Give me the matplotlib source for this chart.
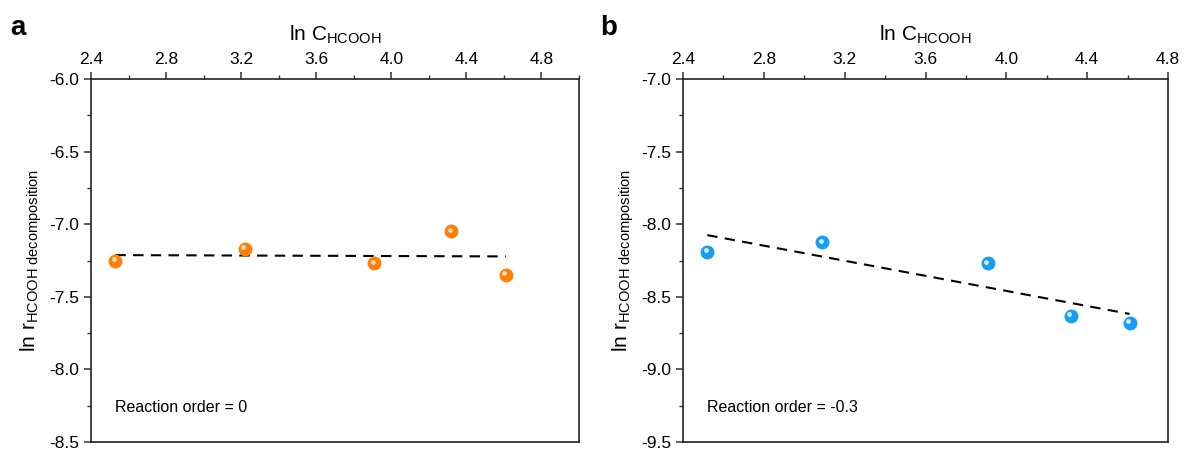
import matplotlib.pyplot as plt
import numpy as np
from matplotlib.ticker import MultipleLocator
from matplotlib import transforms

plt.rcParams['font.family'] = ['Liberation Sans', 'DejaVu Sans']
plt.rcParams['mathtext.fontset'] = 'custom'
plt.rcParams['mathtext.rm'] = 'Liberation Sans'
plt.rcParams['mathtext.it'] = 'Liberation Sans:italic'

# data
x_a = [2.53, 3.22, 3.91, 4.32, 4.61]
y_a = [-7.25, -7.17, -7.27, -7.05, -7.35]
x_b = [2.52, 3.09, 3.91, 4.32, 4.61]
y_b = [-8.19, -8.125, -8.27, -8.63, -8.68]
order_a = "Reaction order = 0"
order_b = "Reaction order = -0.3"

fig = plt.figure(figsize=(11.84, 4.5), dpi=100)
ax_a = fig.add_axes([91/1184, 8/450, 488/1184, 363/450])
ax_b = fig.add_axes([683/1184, 8/450, 485/1184, 363/450])


def sphere(ax, x, y, color, light):
    ax.plot(x, y, 'o', ms=9, color=color, mec=color, zorder=3)
    off = transforms.offset_copy(ax.transData, fig=fig, x=-1.2, y=1.2, units='points')
    ax.plot(x, y, 'o', ms=3.5, color=light, mec='none', zorder=4, transform=off)


def panel(ax, x, y, color, light, xlim, ylim, txt):
    k, b = np.polyfit(x, y, 1)
    xs = np.array([x[0], x[-1]])
    ax.plot(xs, k*xs + b, '--', color='black', lw=1.5, dashes=(5, 3.5), zorder=2)
    sphere(ax, x, y, color, light)
    ax.set_xlim(*xlim)
    ax.set_ylim(*ylim)
    ax.xaxis.set_ticks_position('top')
    ax.xaxis.set_label_position('top')
    ax.yaxis.set_ticks_position('left')
    ax.xaxis.set_major_locator(MultipleLocator(0.4))
    ax.xaxis.set_minor_locator(MultipleLocator(0.2))
    ax.yaxis.set_major_locator(MultipleLocator(0.5))
    ax.yaxis.set_minor_locator(MultipleLocator(0.25))
    ax.tick_params(which='major', direction='out', length=5, width=1.1, labelsize=12.5, color='#333333')
    ax.tick_params(which='minor', direction='out', length=3, width=1.0, color='#333333')
    ax.xaxis.set_major_formatter(plt.FuncFormatter(lambda v, p: f"{v:.1f}"))
    ax.yaxis.set_major_formatter(plt.FuncFormatter(lambda v, p: f"{v:.1f}"))
    for s in ax.spines.values():
        s.set_linewidth(1.2)
        s.set_color('#222222')
    ax.set_xlabel(r'ln C$_{\mathrm{HCOOH}}$', fontsize=15, labelpad=8)
    ax.set_ylabel(r'ln r$_{\mathrm{HCOOH\ decomposition}}$', fontsize=15, labelpad=4)
    ax.text(0.05, 0.095, txt, transform=ax.transAxes, fontsize=11.5, va='center')


panel(ax_a, x_a, y_a, '#FF7F0A', '#FFD9B0', (2.4, 5.0), (-8.5, -6.0), order_a)
panel(ax_b, x_b, y_b, '#1A9CF2', '#CDEBFF', (2.4, 4.8), (-9.5, -7.0), order_b)

fig.text(10/1184, 1 - 28/450, 'a', fontsize=20, fontweight='bold', va='center')
fig.text(600/1184, 1 - 28/450, 'b', fontsize=20, fontweight='bold', va='center')

fig.savefig('out.png', dpi=100)
